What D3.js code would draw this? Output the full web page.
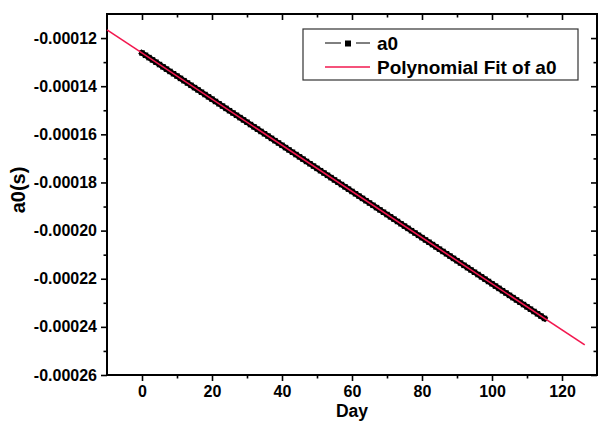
<!DOCTYPE html>
<html>
<head>
<meta charset="utf-8">
<script src="https://cdn.jsdelivr.net/npm/d3@7"></script>
<style>
  html, body { margin: 0; padding: 0; background: #fff; }
  svg { display: block; }
  text { font-family: "Liberation Sans", Arial, sans-serif; font-weight: bold; fill: #000; }
</style>
</head>
<body>
<svg id="chart" width="598" height="421"></svg>
<script>
// ---- data ----
const days = d3.range(0, 116); // day index 0..115 (categories of the measured series)
// a0 in microseconds (scaled to seconds below)
const a0Micro = [
  -126.20, -127.16, -128.12, -129.08, -130.04, -131.00, -131.95, -132.91, -133.87, -134.83,
  -135.79, -136.75, -137.71, -138.67, -139.63, -140.59, -141.54, -142.50, -143.46, -144.42,
  -145.38, -146.34, -147.30, -148.26, -149.22, -150.18, -151.13, -152.09, -153.05, -154.01,
  -154.97, -155.93, -156.89, -157.85, -158.81, -159.77, -160.72, -161.68, -162.64, -163.60,
  -164.56, -165.52, -166.48, -167.44, -168.40, -169.36, -170.31, -171.27, -172.23, -173.19,
  -174.15, -175.11, -176.07, -177.03, -177.99, -178.95, -179.90, -180.86, -181.82, -182.78,
  -183.74, -184.70, -185.66, -186.62, -187.58, -188.54, -189.49, -190.45, -191.41, -192.37,
  -193.33, -194.29, -195.25, -196.21, -197.17, -198.13, -199.08, -200.04, -201.00, -201.96,
  -202.92, -203.88, -204.84, -205.80, -206.76, -207.72, -208.67, -209.63, -210.59, -211.55,
  -212.51, -213.47, -214.43, -215.39, -216.35, -217.31, -218.26, -219.22, -220.18, -221.14,
  -222.10, -223.06, -224.02, -224.98, -225.94, -226.90, -227.85, -228.81, -229.77, -230.73,
  -231.69, -232.65, -233.61, -234.57, -235.53, -236.49
];
// polynomial (linear) fit line end points
const fitDays = [-10, 126.5];
const fitMicro = [-116.6, -247.5];

const xTicks = [0, 20, 40, 60, 80, 100, 120];
const xMinor = [10, 30, 50, 70, 90, 110];
const yTicks = [-0.00026, -0.00024, -0.00022, -0.00020, -0.00018, -0.00016, -0.00014, -0.00012];
const yMinor = [-0.00025, -0.00023, -0.00021, -0.00019, -0.00017, -0.00015, -0.00013];
const xDomain = [-10, 130];
const yDomain = [-0.00026, -0.00011];
const seriesNames = ["a0", "Polynomial Fit of a0"];

// ---- layout ----
const L = 107, R = 597, T = 14, B = 375;
const svg = d3.select("#chart");
svg.append("rect").attr("width", 598).attr("height", 421).attr("fill", "#fff");

const x = d3.scaleLinear().domain(xDomain).range([L, R]);
const y = d3.scaleLinear().domain(yDomain).range([B, T]);

const data = days.map((d, i) => ({ d, v: a0Micro[i] * 1e-6 }));
const fit = fitDays.map((d, i) => ({ d, v: fitMicro[i] * 1e-6 }));

// ---- axes ----
function styleAxis(g) {
  g.select(".domain").remove();
  g.selectAll(".tick line").attr("stroke", "#000").attr("stroke-width", 1.6);
}
const fmtY = v => v.toFixed(5);
const tickFont = "16px";

// bottom
const gB = svg.append("g").attr("transform", `translate(0,${B})`)
  .call(d3.axisBottom(x).tickValues(xTicks).tickSize(6).tickPadding(5).tickFormat(d3.format("d")));
styleAxis(gB);
gB.selectAll("text").style("font-size", tickFont).style("font-family", "Liberation Sans, Arial, sans-serif").style("font-weight", "bold").attr("fill", "#000");
svg.append("g").attr("transform", `translate(0,${B})`)
  .call(d3.axisBottom(x).tickValues(xMinor).tickSize(3.5).tickFormat("")).call(styleAxis);

// top (inward)
svg.append("g").attr("transform", `translate(0,${T})`)
  .call(d3.axisBottom(x).tickValues(xTicks).tickSize(6).tickFormat("")).call(styleAxis);
svg.append("g").attr("transform", `translate(0,${T})`)
  .call(d3.axisBottom(x).tickValues(xMinor).tickSize(3.5).tickFormat("")).call(styleAxis);

// left
const gL = svg.append("g").attr("transform", `translate(${L},0)`)
  .call(d3.axisLeft(y).tickValues(yTicks).tickSize(6).tickPadding(4).tickFormat(fmtY));
styleAxis(gL);
gL.selectAll("text").style("font-size", tickFont).style("font-family", "Liberation Sans, Arial, sans-serif").style("font-weight", "bold").attr("fill", "#000");
svg.append("g").attr("transform", `translate(${L},0)`)
  .call(d3.axisLeft(y).tickValues(yMinor).tickSize(3.5).tickFormat("")).call(styleAxis);

// right (inward)
svg.append("g").attr("transform", `translate(${R},0)`)
  .call(d3.axisLeft(y).tickValues(yTicks).tickSize(6).tickFormat("")).call(styleAxis);
svg.append("g").attr("transform", `translate(${R},0)`)
  .call(d3.axisLeft(y).tickValues(yMinor).tickSize(3.5).tickFormat("")).call(styleAxis);

// frame
svg.append("rect").attr("x", L).attr("y", T).attr("width", R - L).attr("height", B - T)
  .attr("fill", "none").attr("stroke", "#000").attr("stroke-width", 2);

// ---- series ----
const line = d3.line().x(p => x(p.d)).y(p => y(p.v));
// dense symbols merge into a solid band in the reference
svg.append("path").datum(data).attr("d", line).attr("fill", "none")
  .attr("stroke", "#000").attr("stroke-width", 5.5).attr("stroke-linecap", "square");
const ms = 5.5;
svg.append("g").selectAll("rect").data(data).join("rect")
  .attr("x", p => x(p.d) - ms / 2).attr("y", p => y(p.v) - ms / 2)
  .attr("width", ms).attr("height", ms).attr("fill", "#000");
svg.append("path").datum(fit).attr("d", line).attr("fill", "none")
  .attr("stroke", "#f2184f").attr("stroke-width", 1.6);

// ---- axis titles ----
svg.append("text").attr("x", (L + R) / 2).attr("y", 416.5).attr("text-anchor", "middle")
  .style("font-size", "17.5px").text("Day");
svg.append("text").attr("transform", "translate(25,190) rotate(-90)").attr("text-anchor", "middle")
  .style("font-size", "20px").text("a0(s)");

// ---- legend ----
const lg = svg.append("g");
lg.append("rect").attr("x", 303).attr("y", 29).attr("width", 275).attr("height", 51)
  .attr("fill", "#fff").attr("stroke", "#333").attr("stroke-width", 1.2);
lg.append("line").attr("x1", 325).attr("x2", 341).attr("y1", 43).attr("y2", 43).attr("stroke", "#000").attr("stroke-width", 1);
lg.append("line").attr("x1", 356).attr("x2", 370).attr("y1", 43).attr("y2", 43).attr("stroke", "#000").attr("stroke-width", 1);
lg.append("rect").attr("x", 345).attr("y", 40.5).attr("width", 6).attr("height", 6).attr("fill", "#000");
lg.append("line").attr("x1", 325).attr("x2", 370).attr("y1", 67).attr("y2", 67).attr("stroke", "#f2184f").attr("stroke-width", 1.6);
lg.append("text").attr("x", 377).attr("y", 50).style("font-size", "19px").text(seriesNames[0]);
lg.append("text").attr("x", 377).attr("y", 74).style("font-size", "19px").text(seriesNames[1]);
</script>
</body>
</html>
